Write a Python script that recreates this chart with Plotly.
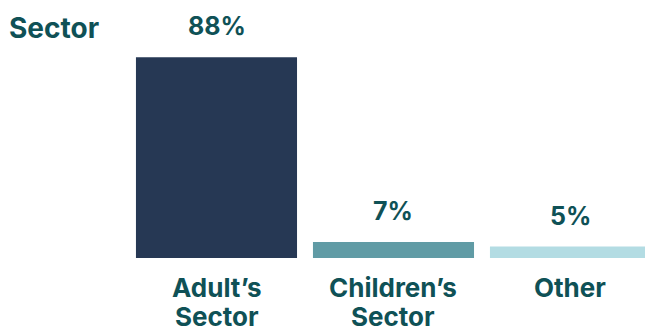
import plotly.graph_objects as go

# Share of respondents by sector
categories = ["Adult’s Sector", "Children’s Sector", "Other"]
category_lines = [["Adult’s", "Sector"], ["Children’s", "Sector"], ["Other"]]
values = [88, 7, 5]
value_labels = ["88%", "7%", "5%"]
bar_colors = ["#263854", "#609BA5", "#B3DCE3"]

TEXT_COLOR = "#0F5156"
FONT = "Inter"
LINE_STEP = 29  # px between category label lines

fig = go.Figure(
    go.Bar(
        x=categories,
        y=values,
        marker=dict(color=bar_colors, line=dict(width=0)),
        hoverinfo="skip",
    )
)

# value labels above bars
for cat, val, lab in zip(categories, values, value_labels):
    fig.add_annotation(
        x=cat, y=val, text=lab, showarrow=False,
        xref="x", yref="y", yanchor="bottom", yshift=14,
        font=dict(family=FONT, size=25, color=TEXT_COLOR, weight=700),
    )

# category labels below bars, with tight line spacing
for cat, lines in zip(categories, category_lines):
    for i, line in enumerate(lines):
        fig.add_annotation(
            x=cat, y=0, text=line, showarrow=False,
            xref="x", yref="y", yanchor="top", yshift=-12 - i * LINE_STEP,
            font=dict(family=FONT, size=26, color=TEXT_COLOR, weight=700),
        )

fig.update_layout(
    width=645, height=327,
    margin=dict(l=128, r=0, t=30, b=69, autoexpand=False),
    paper_bgcolor="white", plot_bgcolor="white",
    bargap=0.09,
    showlegend=False,
    title=dict(
        text="Sector", xref="container", x=9 / 645, xanchor="left",
        yref="container", y=1 - 28 / 327, yanchor="middle",
        font=dict(family=FONT, size=28, color=TEXT_COLOR, weight=700),
    ),
    xaxis=dict(
        range=[-0.5, 2.421], showgrid=False, zeroline=False, showline=False,
        showticklabels=False, automargin=False,
    ),
    yaxis=dict(range=[0, 100], visible=False, automargin=False),
)

fig.write_html("out.html")
